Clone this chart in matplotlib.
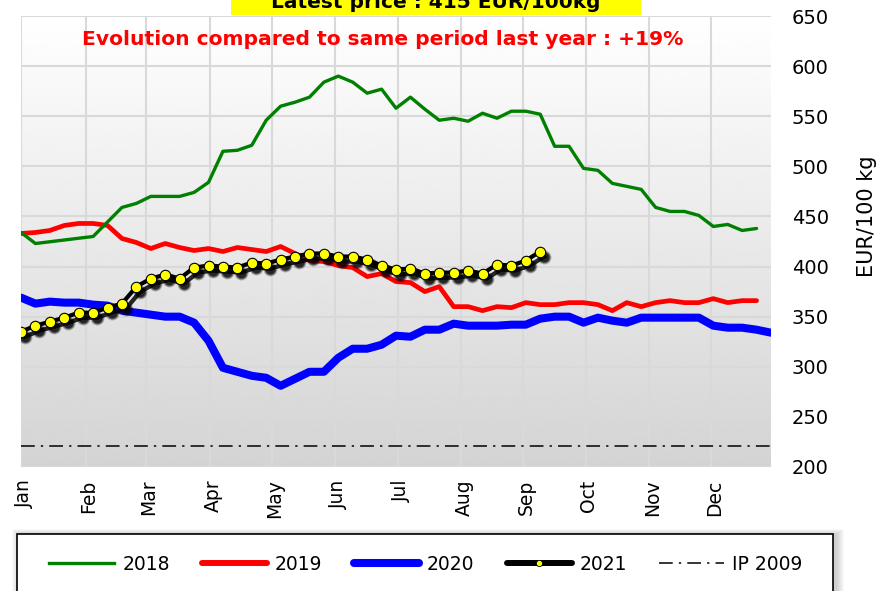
import numpy as np
import matplotlib
matplotlib.use("Agg")
import matplotlib.pyplot as plt
import matplotlib.transforms as mtransforms
from matplotlib.patches import Rectangle
from matplotlib.lines import Line2D

# weekly prices, EUR/100 kg
weeks_2018 = [1, 2, 6, 8, 9, 10, 12, 13, 14, 15, 16, 17, 18, 19, 20, 21, 22, 23, 24, 25,
              26, 27, 28, 29, 30, 31, 32, 33, 34, 35, 36, 37, 38, 39, 40, 41, 42, 43, 44,
              45, 46, 47, 48, 49, 50, 51, 52]
price_2018 = [434, 423, 430, 459, 463, 470, 470, 474, 484, 515, 516, 521, 546, 560, 564,
              569, 584, 590, 584, 573, 577, 558, 569, 557, 546, 548, 545, 553, 548, 555,
              555, 552, 520, 520, 498, 496, 483, 480, 477, 459, 455, 455, 451, 440, 442,
              436, 438]

price_2019 = [433, 434, 436, 441, 443, 443, 441, 428, 424, 418, 423, 419, 416, 418, 415,
              419, 417, 415, 420, 413, 406, 405, 401, 399, 390, 393, 385, 384, 375, 380,
              360, 360, 356, 360, 359, 364, 362, 362, 364, 364, 362, 356, 364, 360, 364,
              366, 364, 364, 368, 364, 366, 366]

price_2020 = [369, 363, 365, 364, 364, 362, 361, 356, 354, 352, 350, 350, 344, 326, 299,
              295, 291, 289, 281, 288, 295, 295, 309, 318, 318, 322, 331, 330, 337, 337,
              343, 341, 341, 341, 342, 342, 348, 350, 350, 344, 349, 346, 344, 349, 349,
              349, 349, 349, 341, 339, 339, 337, 334]

price_2021 = [335, 341, 345, 349, 354, 354, 359, 363, 380, 388, 392, 388, 399, 401, 400,
              399, 404, 403, 407, 410, 413, 413, 410, 410, 407, 401, 397, 398, 393, 394,
              394, 396, 393, 402, 401, 406, 415]

ip_2009 = 221

months = ["Jan", "Feb", "Mar", "Apr", "May", "Jun", "Jul", "Aug", "Sep", "Oct", "Nov", "Dec"]
month_pos = [1, 5.5, 9.65, 14.1, 18.4, 22.8, 27.15, 31.5, 35.8, 40.15, 44.55, 48.85]

weeks_2019 = np.arange(1, len(price_2019) + 1)
weeks_2020 = np.arange(1, len(price_2020) + 1)
weeks_2021 = np.arange(1, len(price_2021) + 1)

W, H = 879, 591
fig = plt.figure(figsize=(W / 100, H / 100), dpi=100)
ax = fig.add_axes([21 / W, 1 - 467 / H, 750 / W, 451 / H])

# grey gradient background
grad = np.linspace(1.0, 0.83, 256).reshape(-1, 1)
ax.imshow(grad, extent=[1, 53, 200, 650], aspect="auto", cmap="gray",
          vmin=0, vmax=1, zorder=0, interpolation="bicubic")

ax.set_xlim(1, 53)
ax.set_ylim(200, 650)
for s in ax.spines.values():
    s.set_visible(False)
ax.grid(True, color="#d9d9d9", lw=1.5)

ax.plot(weeks_2019, price_2019, color="#ff0000", lw=3.4, zorder=3, solid_capstyle="round")
ax.plot(weeks_2018, price_2018, color="#008000", lw=2.4, zorder=3, solid_capstyle="round")
ax.plot(weeks_2020, price_2020, color="#0000ff", lw=5.8, zorder=3, solid_capstyle="round")
ax.axhline(ip_2009, color="black", lw=1.1, dashes=[9, 4, 1.5, 4], zorder=3)

# 2021 with soft shadow
for dx, dy, ms, a in [(4, -5, 10, 0.25), (4, -5, 8.5, 0.45), (4, -5, 7, 0.6)]:
    sh = mtransforms.offset_copy(ax.transData, fig=fig, x=dx, y=dy, units="dots")
    ax.plot(weeks_2021, price_2021, color="black", lw=3, alpha=a, marker="o",
            ms=ms, mec="none", mfc="black", transform=sh, zorder=4)
ax.plot(weeks_2021, price_2021, color="black", lw=3, zorder=5, marker="o", ms=7.5,
        mfc="#ffff00", mec="black", mew=0.8)

ax.yaxis.tick_right()
ax.set_yticks(range(200, 651, 50))
ax.tick_params(axis="y", length=0, labelsize=14, pad=15)
ax.set_ylabel("EUR/100 kg", fontsize=15)
ax.yaxis.set_label_position("right")
ax.yaxis.label.set_va("center")
ax.yaxis.set_label_coords(1.128, 0.556)

ax.set_xticks(month_pos)
ax.set_xticklabels(months, rotation=90, fontsize=13.5)
ax.tick_params(axis="x", length=0, pad=9)
shift = mtransforms.ScaledTranslation(3 / 100, 0, fig.dpi_scale_trans)
for lab in ax.get_xticklabels():
    lab.set_transform(lab.get_transform() + shift)

# titles
fig.patches.append(Rectangle((231 / W, 1 - 15 / H), 410 / W, 20 / H, transform=fig.transFigure,
                             facecolor="#ffff00", edgecolor="none", zorder=1))
fig.text(436 / W, 1 - 8 / H, "Latest price : 415 EUR/100kg", ha="center", va="baseline",
         fontsize=14.5, fontweight="bold", color="black", zorder=2)
ax.text(383 / W, 1 - 45 / H, "Evolution compared to same period last year : +19%",
        transform=fig.transFigure, ha="center", va="baseline", fontsize=14.6,
        fontweight="bold", color="#ff0000", zorder=6)

# legend box with shadow
for i in range(8):
    e = 8 - i
    fig.patches.append(Rectangle(((17 + 3 - e) / W, -20 / H), (816 + 2 * e) / W,
                                 (591 + 20 - 534 + e * 0.6) / H, transform=fig.transFigure,
                                 facecolor="black", edgecolor="none", alpha=0.025))
fig.patches.append(Rectangle((17 / W, -20 / H), 816 / W, (591 + 20 - 534) / H,
                             transform=fig.transFigure, facecolor="white",
                             edgecolor="black", lw=1.2))

handles = [
    Line2D([], [], color="#008000", lw=2.4),
    Line2D([], [], color="#ff0000", lw=4.3, solid_capstyle="round"),
    Line2D([], [], color="#0000ff", lw=5.8, solid_capstyle="round"),
    Line2D([], [], color="black", lw=4.3, marker="o", ms=4.5, mfc="#ffff00", mec="black",
           mew=0.6, solid_capstyle="round"),
    Line2D([], [], color="black", lw=1.1, dashes=[9, 4, 1.5, 4]),
]
labels = ["2018", "2019", "2020", "2021", "IP 2009"]
fig.legend(handles, labels, loc="center left", bbox_to_anchor=(49 / W, 1 - 564 / H),
           ncol=5, frameon=False, fontsize=13.5, handlelength=3.47, handletextpad=0.43,
           columnspacing=1.7, borderpad=0, borderaxespad=0, numpoints=1)

fig.savefig("out.png", dpi=100)
